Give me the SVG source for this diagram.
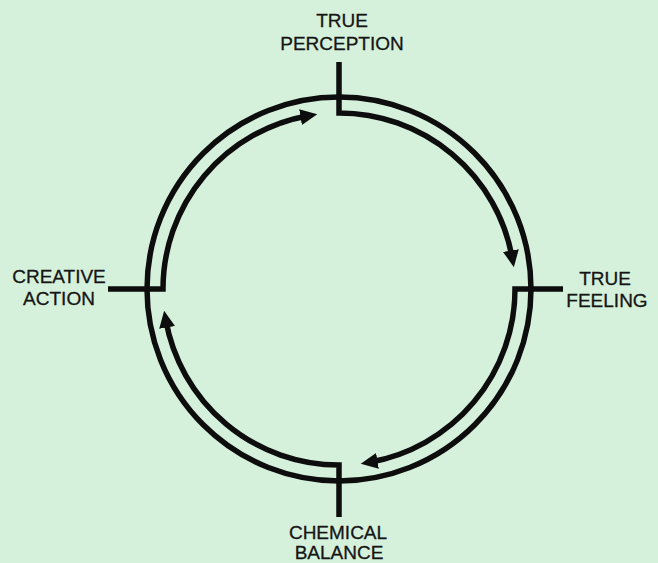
<svg xmlns="http://www.w3.org/2000/svg" width="658" height="563" viewBox="0 0 658 563">
<style>
.ln{fill:none;stroke:#0d0d0d;stroke-width:5.5;stroke-linejoin:miter}
.lbl{font-family:"Liberation Sans",Arial,sans-serif;font-size:19px;fill:#151515;stroke:#151515;stroke-width:0.3;text-anchor:middle}
</style>
<defs>
<marker id="ah" markerUnits="userSpaceOnUse" markerWidth="18" markerHeight="16" refX="8" refY="8" orient="auto" viewBox="0 0 18 16">
<path d="M0,0 L17,8 L0,16 z" fill="#0d0d0d"/>
</marker>
</defs>
<rect width="658" height="563" fill="#d6f1db"/>
<g id="connectors">
<circle class="ln" cx="339" cy="289" r="192"/>
<path class="ln" d="M339 62 L339 113 A176 176 0 0 1 512.3 258.4" marker-end="url(#ah)"/>
<path class="ln" d="M563 289 L515 289 A176 176 0 0 1 369.6 462.3" marker-end="url(#ah)"/>
<path class="ln" d="M339 517 L339 465 A176 176 0 0 1 165.7 319.6" marker-end="url(#ah)"/>
<path class="ln" d="M108 289 L163 289 A176 176 0 0 1 308.4 115.7" marker-end="url(#ah)"/>
</g>
<g id="true-perception"><text class="lbl" x="342" y="27">TRUE</text><text class="lbl" x="342" y="50">PERCEPTION</text></g>
<g id="true-feeling"><text class="lbl" x="605" y="285">TRUE</text><text class="lbl" x="607" y="307">FEELING</text></g>
<g id="chemical-balance"><text class="lbl" x="338" y="539">CHEMICAL</text><text class="lbl" x="339" y="559">BALANCE</text></g>
<g id="creative-action"><text class="lbl" x="59" y="283">CREATIVE</text><text class="lbl" x="59" y="305">ACTION</text></g>
</svg>
